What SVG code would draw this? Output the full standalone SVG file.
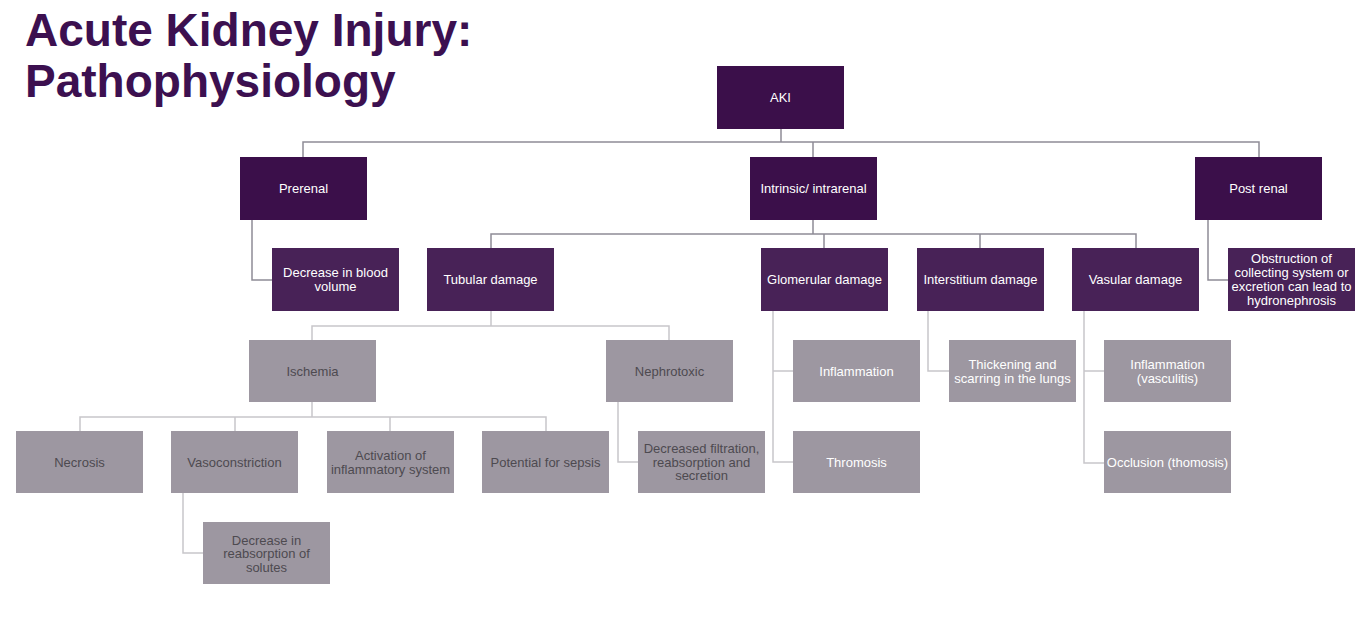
<svg xmlns="http://www.w3.org/2000/svg" width="1370" height="625" viewBox="0 0 1370 625">
<style>
.t{font-family:"Liberation Sans",Arial,sans-serif;font-size:13px;text-anchor:middle}
.w{fill:#ffffff}
.d{fill:#4d4a50}
.p1{fill:#3b0f4a}
.p2{fill:#482257}
.g{fill:#9d97a1}
.c1{fill:none;stroke:#8e8c96;stroke-width:1.5}
.c2{fill:none;stroke:#c8c6ca;stroke-width:1.5}
.title{font-family:"Liberation Sans",Arial,sans-serif;font-size:46px;font-weight:bold;fill:#3c1050}
</style>
<rect width="1370" height="625" fill="#ffffff"/>
<g id="title">
<text class="title" x="25" y="46">Acute Kidney Injury:</text>
<text class="title" x="25" y="97">Pathophysiology</text>
</g>
<g id="connectors">
<path class="c1" d="M781,129V142M303,157V142H1259V157M813,142V157"/>
<path class="c1" d="M252,219V280H272M1208,219V280H1228"/>
<path class="c1" d="M813,220V234M491,248V234H1136V248M824,234V248M980,234V248"/>
<path class="c2" d="M491,311V326M312,340V326H669V340"/>
<path class="c2" d="M312,402V417M80,431V417H546V431M235,417V431M390,417V431"/>
<path class="c2" d="M183,493V553H203M618,402V462H638"/>
<path class="c2" d="M773,311V462H793M773,371H793"/>
<path class="c2" d="M928,311V371H949"/>
<path class="c2" d="M1084,311V463H1104M1084,371H1104"/>
</g>
<g id="aki"><rect class="p1" x="717" y="66" width="127" height="63"/><text class="t w" x="780.5" y="102">AKI</text></g>
<g id="prerenal"><rect class="p1" x="240" y="157" width="127" height="63"/><text class="t w" x="303.5" y="193">Prerenal</text></g>
<g id="intrinsic"><rect class="p1" x="750" y="157" width="127" height="63"/><text class="t w" x="813.5" y="193">Intrinsic/ intrarenal</text></g>
<g id="postrenal"><rect class="p1" x="1195" y="157" width="127" height="63"/><text class="t w" x="1258.5" y="193">Post renal</text></g>
<g id="blood-volume"><rect class="p2" x="272" y="248" width="127" height="63"/><text class="t w" x="335.5" y="277">Decrease in blood</text><text class="t w" x="335.5" y="291">volume</text></g>
<g id="tubular"><rect class="p2" x="427" y="248" width="127" height="63"/><text class="t w" x="490.5" y="284">Tubular damage</text></g>
<g id="glomerular"><rect class="p2" x="761" y="248" width="127" height="63"/><text class="t w" x="824.5" y="284">Glomerular damage</text></g>
<g id="interstitium"><rect class="p2" x="917" y="248" width="127" height="63"/><text class="t w" x="980.5" y="284">Interstitium damage</text></g>
<g id="vascular"><rect class="p2" x="1072" y="248" width="127" height="63"/><text class="t w" x="1135.5" y="284">Vasular damage</text></g>
<g id="obstruction"><rect class="p2" x="1228" y="248" width="127" height="63"/><text class="t w" x="1291.5" y="263">Obstruction of</text><text class="t w" x="1291.5" y="277">collecting system or</text><text class="t w" x="1291.5" y="291">excretion can lead to</text><text class="t w" x="1291.5" y="305">hydronephrosis</text></g>
<g id="ischemia"><rect class="g" x="249" y="340" width="127" height="62"/><text class="t d" x="312.5" y="375.5">Ischemia</text></g>
<g id="nephrotoxic"><rect class="g" x="606" y="340" width="127" height="62"/><text class="t d" x="669.5" y="375.5">Nephrotoxic</text></g>
<g id="glom-inflammation"><rect class="g" x="793" y="340" width="127" height="62"/><text class="t w" x="856.5" y="375.5">Inflammation</text></g>
<g id="thickening"><rect class="g" x="949" y="340" width="127" height="62"/><text class="t w" x="1012.5" y="368.5">Thickening and</text><text class="t w" x="1012.5" y="382.5">scarring in the lungs</text></g>
<g id="vasculitis"><rect class="g" x="1104" y="340" width="127" height="62"/><text class="t w" x="1167.5" y="368.5">Inflammation</text><text class="t w" x="1167.5" y="382.5">(vasculitis)</text></g>
<g id="necrosis"><rect class="g" x="16" y="431" width="127" height="62"/><text class="t d" x="79.5" y="466.5">Necrosis</text></g>
<g id="vasoconstriction"><rect class="g" x="171" y="431" width="127" height="62"/><text class="t d" x="234.5" y="466.5">Vasoconstriction</text></g>
<g id="activation"><rect class="g" x="327" y="431" width="127" height="62"/><text class="t d" x="390.5" y="459.5">Activation of</text><text class="t d" x="390.5" y="473.5">inflammatory system</text></g>
<g id="sepsis"><rect class="g" x="482" y="431" width="127" height="62"/><text class="t d" x="545.5" y="466.5">Potential for sepsis</text></g>
<g id="filtration"><rect class="g" x="638" y="431" width="127" height="62"/><text class="t d" x="701.5" y="453">Decreased filtration,</text><text class="t d" x="701.5" y="466.5">reabsorption and</text><text class="t d" x="701.5" y="480">secretion</text></g>
<g id="thromosis"><rect class="g" x="793" y="431" width="127" height="62"/><text class="t w" x="856.5" y="466.5">Thromosis</text></g>
<g id="occlusion"><rect class="g" x="1104" y="431" width="127" height="62"/><text class="t w" x="1167.5" y="466.5">Occlusion (thomosis)</text></g>
<g id="reabsorption"><rect class="g" x="203" y="522" width="127" height="62"/><text class="t d" x="266.5" y="544.5">Decrease in</text><text class="t d" x="266.5" y="558">reabsorption of</text><text class="t d" x="266.5" y="571.5">solutes</text></g>
</svg>
